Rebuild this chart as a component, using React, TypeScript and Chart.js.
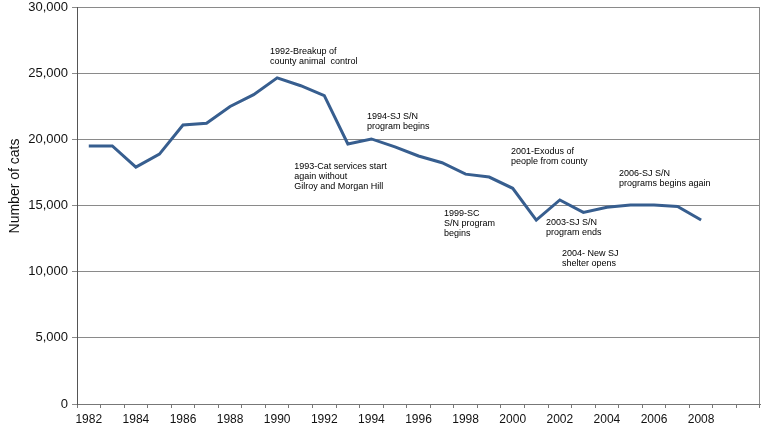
import React, { useEffect, useRef } from "react";
import { Chart, registerables } from "chart.js";

Chart.register(...registerables);

const years: string[] = [
  "1982", "1983", "1984", "1985", "1986", "1987", "1988", "1989", "1990", "1991",
  "1992", "1993", "1994", "1995", "1996", "1997", "1998", "1999", "2000", "2001",
  "2002", "2003", "2004", "2005", "2006", "2007", "2008", "2009", "2010",
];

const cats: (number | null)[] = [
  19500, 19500, 17900, 18880, 21080, 21220, 22480, 23380, 24650, 24050,
  23300, 19650, 20030, 19430, 18740, 18230, 17370, 17150, 16300, 13900,
  15420, 14480, 14870, 15030, 15030, 14930, 13900, null, null,
];

const yTicks: number[] = [0, 5000, 10000, 15000, 20000, 25000, 30000];

const yTitle = "Number of cats";

// annotation text, anchored at (category index, value) of first line's middle
const noteText: string[][] = [
  ["1992-Breakup of", "county animal  control"],
  ["1993-Cat services start", "again without", "Gilroy and Morgan Hill"],
  ["1994-SJ S/N", "program begins"],
  ["2001-Exodus of", "people from county"],
  ["2006-SJ S/N", "programs begins again"],
  ["1999-SC", "S/N program", "begins"],
  ["2003-SJ S/N", "program ends"],
  ["2004- New SJ", "shelter opens"],
];
const noteIndex: number[] = [7.69, 8.72, 11.81, 17.93, 22.51, 15.08, 19.41, 20.09];
const noteValue: number[] = [26600, 17950, 21700, 19050, 17450, 14360, 13680, 11400];

const decorPlugin = {
  id: "decor",
  afterDraw(chart: any) {
    const { ctx, chartArea, scales } = chart;
    ctx.save();
    // right border of plot area
    ctx.strokeStyle = "#8a8a8a";
    ctx.lineWidth = 1;
    ctx.beginPath();
    ctx.moveTo(Math.round(chartArea.right) - 0.5, chartArea.top);
    ctx.lineTo(Math.round(chartArea.right) - 0.5, chartArea.bottom);
    ctx.stroke();

    // annotations
    ctx.fillStyle = "#000";
    ctx.font = "9px 'Liberation Sans', Arial, sans-serif";
    ctx.textAlign = "left";
    ctx.textBaseline = "middle";
    noteText.forEach((lines, i) => {
      const x = scales.x.getPixelForValue(noteIndex[i]);
      const y = scales.y.getPixelForValue(noteValue[i]);
      lines.forEach((t, j) => ctx.fillText(t, x, y + j * 10));
    });

    // y axis title
    ctx.fillStyle = "#111";
    ctx.font = "14px 'Liberation Sans', Arial, sans-serif";
    ctx.textAlign = "center";
    ctx.textBaseline = "middle";
    ctx.translate(15, 186);
    ctx.rotate(-Math.PI / 2);
    ctx.fillText(yTitle, 0, 0);
    ctx.restore();
  },
};

export default function App() {
  const ref = useRef<HTMLCanvasElement | null>(null);

  useEffect(() => {
    if (!ref.current) return;
    const chart = new Chart(ref.current, {
      type: "line",
      data: {
        labels: years,
        datasets: [
          {
            data: cats,
            borderColor: "#375E8F",
            borderWidth: 3,
            pointRadius: 0,
            tension: 0,
            fill: false,
          },
        ],
      },
      options: {
        animation: false,
        responsive: false,
        layout: { padding: { top: 7, right: 2, left: 0, bottom: 0 } },
        plugins: {
          legend: { display: false },
          tooltip: { enabled: false },
        },
        scales: {
          x: {
            type: "category",
            offset: true,
            afterFit: (s: any) => {
              s.height = 26;
              s.paddingLeft = 0;
              s.paddingRight = 0;
            },
            grid: {
              offset: true,
              drawOnChartArea: false,
              drawTicks: true,
              tickLength: 4,
              color: "#777",
            },
            border: { color: "#777", width: 1 },
            ticks: {
              autoSkip: false,
              maxRotation: 0,
              minRotation: 0,
              padding: 4,
              color: "#111",
              font: { family: "'Liberation Sans', Arial, sans-serif", size: 12 },
              callback: (_v: any, i: number) => {
                const y = Number(years[i]);
                return y % 2 === 0 && y <= 2008 ? years[i] : "";
              },
            },
          },
          y: {
            min: 0,
            max: 30000,
            afterFit: (s: any) => {
              s.width = 77;
              s.paddingTop = 0;
              s.paddingBottom = 0;
            },
            afterBuildTicks: (s: any) => {
              s.ticks = yTicks.map((v) => ({ value: v }));
            },
            grid: {
              color: "#8a8a8a",
              lineWidth: 1,
              drawTicks: true,
              tickLength: 5,
            },
            border: { color: "#555", width: 1 },
            ticks: {
              padding: 4,
              color: "#111",
              font: { family: "'Liberation Sans', Arial, sans-serif", size: 13, lineHeight: 1 },
              callback: (v: any) => Number(v).toLocaleString("en-US"),
            },
          },
        },
      },
      plugins: [decorPlugin],
    });
    return () => chart.destroy();
  }, []);

  return (
    <div style={{ position: "fixed", left: 0, top: 0, width: 762, height: 430, background: "#fff" }}>
      <canvas ref={ref} width={762} height={430} style={{ display: "block" }} />
    </div>
  );
}
